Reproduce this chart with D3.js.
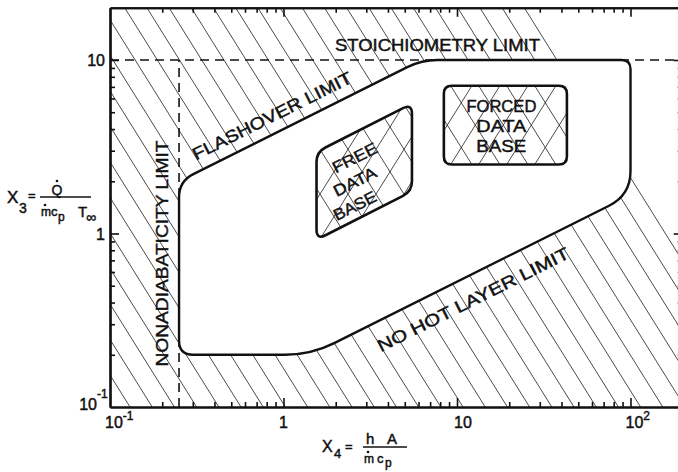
<!DOCTYPE html>
<html>
<head>
<meta charset="utf-8">
<script src="https://cdn.jsdelivr.net/npm/d3@7/dist/d3.min.js"></script>
<style>
  html, body { margin: 0; padding: 0; background: #fff; }
  svg { display: block; }
  text { font-family: "Liberation Sans", Arial, sans-serif; fill: #111; stroke: #111; stroke-width: 0.45px; }
</style>
</head>
<body>
<svg id="chart" width="678" height="472"></svg>
<script>
// ---- data -------------------------------------------------------------
const x4Domain = [0.1, 200];            // X4 = hA / (m cp)
const x3Domain = [0.1, 20];             // X3 = Q / (m cp T_inf)
const xMajorTicks = [0.1, 1, 10, 100];
const xTickBase = ["10", "1", "10", "10"];
const xTickExp  = ["-1", "", "", "2"];
const yMajorTicks = [0.1, 1, 10];
const yTickBase = ["10", "1", "10"];
const yTickExp  = ["-1", "", ""];

const stoichiometryLimit = 10;          // X3 upper limit
const nonadiabaticityLimit = 0.25;      // X4 lower limit
const flashoverCoef = 4;                // flashover:      X3 = 4 * sqrt(X4)
const hotLayerCoef = 1 / 6;             // no hot layer:   X3 = sqrt(X4) / 6
const minX3 = 0.2;                      // lower edge of the admissible region
const maxX4 = 100;                      // right edge of the admissible region

// data-base boxes: corners (X4, X3) going clockwise from top-left
const freeBox   = [[1.55, 2.95], [5.5, 5.6], [5.5, 1.75], [1.55, 0.92]];
const forcedBox = [[8.4, 7.1], [43, 7.1], [43, 2.5], [8.4, 2.5]];

// ---- scales -----------------------------------------------------------
const decade = 173.5;
const left = 110, bottom = 407;
const x = d3.scaleLog().domain(x4Domain)
  .range([left, left + decade * Math.log10(x4Domain[1] / x4Domain[0])]);
const y = d3.scaleLog().domain(x3Domain)
  .range([bottom, bottom - decade * Math.log10(x3Domain[1] / x3Domain[0])]);
const [xl, xr] = x.range();
const [yb, yt] = y.range();

const svg = d3.select("#chart");
const ink = "#111";

// admissible region outline in data space
const flash = v => flashoverCoef * Math.sqrt(v);
const hot = v => hotLayerCoef * Math.sqrt(v);
const region = [
  [nonadiabaticityLimit, minX3],
  [Math.pow(minX3 / hotLayerCoef, 2), minX3],
  [maxX4, hot(maxX4)],
  [maxX4, stoichiometryLimit],
  [Math.pow(stoichiometryLimit / flashoverCoef, 2), stoichiometryLimit],
  [nonadiabaticityLimit, flash(nonadiabaticityLimit)]
];
const regionRadii = [14, 26, 24, 9, 16, 16];

function roundedPath(pts, radii) {
  const p = pts.map(d => [x(d[0]), y(d[1])]);
  const n = p.length;
  let s = "";
  for (let i = 0; i < n; i++) {
    const c = p[i], a = p[(i - 1 + n) % n], b = p[(i + 1) % n];
    const la = Math.hypot(a[0] - c[0], a[1] - c[1]);
    const lb = Math.hypot(b[0] - c[0], b[1] - c[1]);
    const r = radii[i];
    const p1 = [c[0] + (a[0] - c[0]) * r / la, c[1] + (a[1] - c[1]) * r / la];
    const p2 = [c[0] + (b[0] - c[0]) * r / lb, c[1] + (b[1] - c[1]) * r / lb];
    s += (i === 0 ? "M" : "L") + p1[0] + "," + p1[1] + "Q" + c[0] + "," + c[1] + " " + p2[0] + "," + p2[1];
  }
  return s + "Z";
}

const regionD = roundedPath(region, regionRadii);
const freeD = roundedPath(freeBox, [10, 10, 10, 10]);
const forcedD = roundedPath(forcedBox, [8, 8, 8, 8]);

const defs = svg.append("defs");
defs.append("clipPath").attr("id", "outside")
  .append("path")
  .attr("clip-rule", "evenodd")
  .attr("d", `M${xl},${yt}H${xr}V${yb}H${xl}Z` + regionD);
defs.append("clipPath").attr("id", "freeClip").append("path").attr("d", freeD);
defs.append("clipPath").attr("id", "forcedClip").append("path").attr("d", forcedD);

// ---- single hatching outside the admissible region --------------------
const hatchSlope = 1.6, hatchStep = 22.2, hatchPhase = 130;
const rise = yb - yt;
const hatchStarts = d3.range(-5, 30).map(k => hatchPhase + k * hatchStep);
svg.append("g").attr("clip-path", "url(#outside)")
  .selectAll("line").data(hatchStarts).join("line")
  .attr("x1", d => d).attr("y1", yb)
  .attr("x2", d => d - rise / hatchSlope).attr("y2", yt)
  .attr("stroke", "#2a2a2a").attr("stroke-width", 0.85);

// ---- cross hatching inside the data-base boxes ------------------------
function crossHatch(clipId, box, step, slope, shift) {
  const xs = box.map(d => x(d[0])), ys = box.map(d => y(d[1]));
  const x0 = d3.min(xs), x1 = d3.max(xs), y0 = d3.min(ys), y1 = d3.max(ys);
  const h = y1 - y0, run = h / slope;
  const g = svg.append("g").attr("clip-path", `url(#${clipId})`);
  const starts = d3.range(x0 - run - step + shift, x1 + run + step, step);
  g.selectAll("line.a").data(starts).join("line").attr("class", "a")
    .attr("x1", d => d).attr("y1", y1).attr("x2", d => d + run).attr("y2", y0);
  g.selectAll("line.b").data(starts).join("line").attr("class", "b")
    .attr("x1", d => d).attr("y1", y0).attr("x2", d => d + run).attr("y2", y1);
  g.selectAll("line").attr("stroke", "#2a2a2a").attr("stroke-width", 0.85);
}
crossHatch("freeClip", freeBox, 28, 1.6, 4);
crossHatch("forcedClip", forcedBox, 28, 1.6, 0);

// ---- dashed limits ----------------------------------------------------
svg.append("line")
  .attr("x1", xl).attr("x2", xr)
  .attr("y1", y(stoichiometryLimit)).attr("y2", y(stoichiometryLimit))
  .attr("stroke", ink).attr("stroke-width", 1.6).attr("stroke-dasharray", "9,6");
svg.append("line")
  .attr("x1", x(nonadiabaticityLimit)).attr("x2", x(nonadiabaticityLimit))
  .attr("y1", yb).attr("y2", y(stoichiometryLimit))
  .attr("stroke", ink).attr("stroke-width", 1.6).attr("stroke-dasharray", "9,6");

// ---- region and box outlines -----------------------------------------
svg.append("path").attr("d", regionD)
  .attr("fill", "none").attr("stroke", ink).attr("stroke-width", 2.4);
svg.append("path").attr("d", freeD)
  .attr("fill", "none").attr("stroke", ink).attr("stroke-width", 2.6);
svg.append("path").attr("d", forcedD)
  .attr("fill", "none").attr("stroke", ink).attr("stroke-width", 2.6);

// ---- axes -------------------------------------------------------------
function minorTicks(domain) {
  const out = [];
  for (let e = Math.floor(Math.log10(domain[0])); e <= Math.ceil(Math.log10(domain[1])); e++) {
    for (let m = 2; m <= 9; m++) {
      const v = m * Math.pow(10, e);
      if (v > domain[0] && v < domain[1]) out.push(v);
    }
  }
  return out;
}
const xMinor = minorTicks(x4Domain), yMinor = minorTicks(x3Domain);

function drawAxis(gen, scale, transform, major, minor) {
  const g = svg.append("g").attr("transform", transform);
  g.call(gen(scale).tickValues(minor).tickSize(-5).tickSizeOuter(0).tickFormat(""));
  const g2 = svg.append("g").attr("transform", transform);
  g2.call(gen(scale).tickValues(major.filter(v => v > scale.domain()[0])).tickSize(-9).tickSizeOuter(0).tickFormat(""));
  [g, g2].forEach(a => {
    a.selectAll("path.domain").attr("stroke", ink).attr("stroke-width", 2.2);
    a.selectAll(".tick line").attr("stroke", ink).attr("stroke-width", 1.6);
  });
}
drawAxis(d3.axisBottom, x, `translate(0,${yb})`, xMajorTicks, xMinor);
drawAxis(d3.axisTop, x, `translate(0,${yt})`, xMajorTicks, xMinor);
drawAxis(d3.axisLeft, y, `translate(${xl},0)`, yMajorTicks, yMinor);
drawAxis(d3.axisRight, y, `translate(${xr},0)`, yMajorTicks, yMinor);

// tick labels
xMajorTicks.forEach((v, i) => {
  const t = svg.append("text").attr("y", yb + 21).attr("font-size", 16);
  if (xTickExp[i]) {
    t.attr("x", x(v) - 5).text(xTickBase[i]);
    t.append("tspan").attr("dy", -8).attr("font-size", 12).text(xTickExp[i]);
  } else if (xTickBase[i] === "1") {
    t.attr("x", x(v)).attr("text-anchor", "middle").text("1");
  } else {
    t.attr("x", x(v) - 3).text(xTickBase[i]);
  }
});
yMajorTicks.forEach((v, i) => {
  if (yTickExp[i]) {
    svg.append("text").attr("x", xl - 13).attr("y", y(v) + 3)
      .attr("font-size", 16).attr("text-anchor", "end").text(yTickBase[i]);
    svg.append("text").attr("x", xl - 13).attr("y", y(v) - 9)
      .attr("font-size", 12).text(yTickExp[i]);
  } else {
    svg.append("text").attr("x", xl - 5).attr("y", y(v) + 6)
      .attr("font-size", 16).attr("text-anchor", "end").text(yTickBase[i]);
  }
});

// ---- axis titles ------------------------------------------------------
function dot(cx, cy) {
  svg.append("circle").attr("cx", cx).attr("cy", cy).attr("r", 1.3).attr("fill", ink);
}
// X3 = Q / (m cp T_inf)
svg.append("text").attr("x", 7).attr("y", 203).attr("font-size", 17).text("X");
svg.append("text").attr("x", 19).attr("y", 213).attr("font-size", 14).text("3");
svg.append("text").attr("x", 28).attr("y", 200).attr("font-size", 13).text("=");
svg.append("line").attr("x1", 40).attr("x2", 91).attr("y1", 197).attr("y2", 197)
  .attr("stroke", ink).attr("stroke-width", 1.3);
svg.append("text").attr("x", 57).attr("y", 195).attr("font-size", 14)
  .attr("text-anchor", "middle").text("Q");
dot(57, 181);
svg.append("text").attr("x", 41).attr("y", 216).attr("font-size", 12).text("m");
dot(45, 205);
svg.append("text").attr("x", 51).attr("y", 216).attr("font-size", 13).text("c");
svg.append("text").attr("x", 58).attr("y", 221).attr("font-size", 12).text("p");
svg.append("text").attr("x", 78).attr("y", 217).attr("font-size", 15).text("T");
svg.append("text").attr("x", 86).attr("y", 222).attr("font-size", 14).text("∞");

// X4 = hA / (m cp)
svg.append("text").attr("x", 322).attr("y", 452).attr("font-size", 16).text("X");
svg.append("text").attr("x", 334).attr("y", 458).attr("font-size", 13).text("4");
svg.append("text").attr("x", 345).attr("y", 451).attr("font-size", 13).text("=");
svg.append("line").attr("x1", 363).attr("x2", 407).attr("y1", 447).attr("y2", 447)
  .attr("stroke", ink).attr("stroke-width", 1.3);
svg.append("text").attr("x", 366).attr("y", 444).attr("font-size", 15)
  .attr("textLength", 31).attr("lengthAdjust", "spacing").text("hA");
svg.append("text").attr("x", 364).attr("y", 463).attr("font-size", 12).text("m");
dot(368, 452);
svg.append("text").attr("x", 377).attr("y", 463).attr("font-size", 13).text("c");
svg.append("text").attr("x", 385).attr("y", 467).attr("font-size", 12).text("p");

// ---- limit labels -----------------------------------------------------
const lineAngle = -Math.atan(0.5) * 180 / Math.PI;

function labelOnCurve(text, fn, xv, offset, len) {
  const px = x(xv), py = y(fn(xv));
  const a = Math.atan(0.5);
  // unit normal pointing up-left from a line rising to the right
  const nx = -Math.sin(a), ny = -Math.cos(a);
  svg.append("text")
    .attr("transform", `translate(${px + nx * offset},${py + ny * offset}) rotate(${lineAngle})`)
    .attr("text-anchor", "middle").attr("font-size", 17)
    .attr("textLength", len).attr("lengthAdjust", "spacingAndGlyphs")
    .text(text);
}

svg.append("text").attr("x", 335).attr("y", 51).attr("font-size", 17)
  .attr("textLength", 205).attr("lengthAdjust", "spacingAndGlyphs")
  .text("STOICHIOMETRY LIMIT");

labelOnCurve("FLASHOVER LIMIT", flash, 0.95, 11, 176);
labelOnCurve("NO HOT LAYER LIMIT", hot, 10.8, -29, 212);

svg.append("text")
  .attr("transform", `translate(${x(nonadiabaticityLimit) - 11},${(y(0.1) + y(10)) / 2 + 20}) rotate(-90)`)
  .attr("text-anchor", "middle").attr("font-size", 17)
  .attr("textLength", 226).attr("lengthAdjust", "spacingAndGlyphs")
  .text("NONADIABATICITY LIMIT");

// box labels
const freeCx = d3.mean(freeBox, d => x(d[0])), freeCy = d3.mean(freeBox, d => y(d[1]));
["FREE", "DATA", "BASE"].forEach((s, i) => {
  svg.append("text")
    .attr("transform", `translate(${freeCx - 7},${freeCy - 9 + i * 24}) rotate(${lineAngle})`)
    .attr("text-anchor", "middle").attr("font-size", 16)
    .attr("textLength", s === "FREE" ? 48 : 46).attr("lengthAdjust", "spacingAndGlyphs")
    .text(s);
});
const forcedCx = d3.mean(forcedBox, d => x(d[0]));
const forcedTop = y(forcedBox[0][1]);
["FORCED", "DATA", "BASE"].forEach((s, i) => {
  svg.append("text")
    .attr("x", forcedCx - 4).attr("y", forcedTop + 26 + i * 20)
    .attr("text-anchor", "middle").attr("font-size", 17)
    .attr("textLength", s === "FORCED" ? 70 : 50).attr("lengthAdjust", "spacingAndGlyphs")
    .text(s);
});
</script>
</body>
</html>
